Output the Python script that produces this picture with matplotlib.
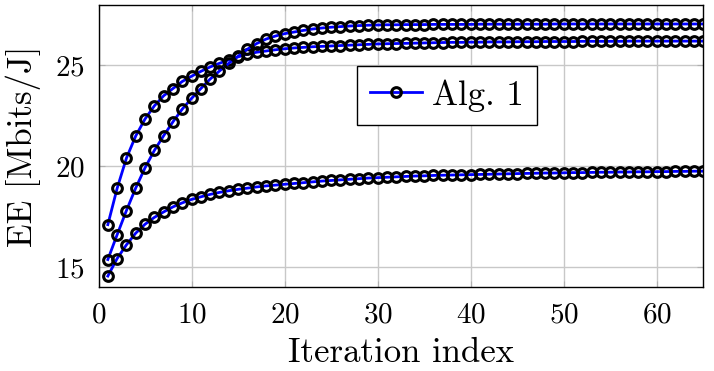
import numpy as np
import matplotlib
matplotlib.use("Agg")
import matplotlib.pyplot as plt

# EE per iteration, three runs of Alg. 1
iters = list(range(1, 66))

ee_run1 = [17.10, 18.90, 20.40, 21.50, 22.34, 22.99, 23.49, 23.85, 24.20, 24.46,
           24.70, 24.92, 25.10, 25.27, 25.42, 25.55, 25.65, 25.71, 25.77, 25.82,
           25.86, 25.89, 25.92, 25.94, 25.96, 25.98, 26.00, 26.02, 26.04, 26.06,
           26.07, 26.08, 26.09, 26.10, 26.11, 26.12, 26.13, 26.14, 26.14, 26.15,
           26.15, 26.16, 26.16, 26.16, 26.17, 26.17, 26.17, 26.18, 26.18, 26.18,
           26.18, 26.19, 26.19, 26.19, 26.19, 26.19, 26.20, 26.20, 26.20, 26.20,
           26.20, 26.20, 26.20, 26.20, 26.20]

ee_run2 = [15.37, 16.60, 17.80, 18.92, 19.92, 20.78, 21.51, 22.20, 22.83, 23.36,
           23.85, 24.32, 24.72, 25.10, 25.45, 25.80, 26.08, 26.30, 26.45, 26.57,
           26.65, 26.73, 26.80, 26.85, 26.89, 26.92, 26.95, 26.97, 26.99, 27.00,
           27.01, 27.01, 27.02, 27.02, 27.02, 27.03, 27.03, 27.03, 27.03, 27.03,
           27.04, 27.04, 27.04, 27.04, 27.04, 27.04, 27.04, 27.04, 27.05, 27.05,
           27.05, 27.05, 27.05, 27.05, 27.05, 27.05, 27.05, 27.05, 27.05, 27.05,
           27.05, 27.05, 27.05, 27.05, 27.05]

ee_run3 = [14.55, 15.42, 16.10, 16.68, 17.12, 17.46, 17.73, 17.98, 18.18, 18.35,
           18.48, 18.60, 18.70, 18.78, 18.85, 18.91, 18.97, 19.02, 19.06, 19.10,
           19.14, 19.18, 19.22, 19.26, 19.29, 19.32, 19.35, 19.38, 19.41, 19.43,
           19.45, 19.47, 19.49, 19.51, 19.52, 19.54, 19.55, 19.56, 19.57, 19.58,
           19.59, 19.60, 19.61, 19.62, 19.63, 19.64, 19.65, 19.66, 19.66, 19.67,
           19.68, 19.68, 19.69, 19.70, 19.70, 19.71, 19.71, 19.72, 19.72, 19.73,
           19.73, 19.74, 19.74, 19.75, 19.75]

x_ticks = [0, 10, 20, 30, 40, 50, 60]
y_ticks = [15, 20, 25]

plt.rcParams['font.family'] = 'serif'
plt.rcParams['font.serif'] = ['cmr10', 'DejaVu Serif']
plt.rcParams['mathtext.fontset'] = 'cm'
plt.rcParams['axes.formatter.use_mathtext'] = True

fig = plt.figure(figsize=(7.14, 3.71), dpi=100)
ax = fig.add_axes([0.138, 0.226, 0.847, 0.761])

style = dict(color='blue', linewidth=2.0, marker='o', markersize=7.0,
             markerfacecolor='none', markeredgecolor='black', markeredgewidth=2.2)
ax.plot(iters, ee_run1, label='Alg. 1', **style)
ax.plot(iters, ee_run2, **style)
ax.plot(iters, ee_run3, **style)

ax.set_xlim(0, 65)
ax.set_ylim(14, 28)
ax.set_xticks(x_ticks)
ax.set_yticks(y_ticks)
ax.grid(True, color='#c8c8c8', linewidth=1.0)
ax.set_axisbelow(True)
ax.tick_params(direction='in', length=4, width=0.8, color='#b0b0b0',
               top=True, right=True, labelsize=21)
ax.tick_params(axis='x', pad=11)
ax.tick_params(axis='y', pad=10)
for sp in ax.spines.values():
    sp.set_linewidth(1.0)
    sp.set_color('black')

ax.set_xlabel('Iteration index', fontsize=25, labelpad=6)
ax.set_ylabel('EE [Mbits/J]', fontsize=25, labelpad=10)

leg = ax.legend(loc='upper left', bbox_to_anchor=(0.427, 0.784), borderaxespad=0,
                fontsize=25, fancybox=False, framealpha=1, edgecolor='black',
                handlelength=1.5, handletextpad=0.3, borderpad=0.38)
leg.get_frame().set_linewidth(1.0)

plt.savefig('out.png', dpi=100)
